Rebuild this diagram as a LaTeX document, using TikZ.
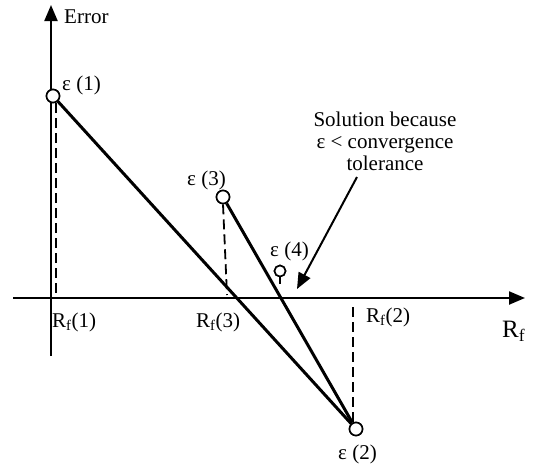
\documentclass[tikz,border=0pt]{standalone}
\usepackage{fontspec}
\setmainfont{Liberation Serif}
\usetikzlibrary{arrows.meta}
\begin{document}
\begin{tikzpicture}[x=1pt,y=-1pt,
  font=\fontsize{21}{24}\selectfont,
  axis/.style={line width=2.2pt,-{Triangle[length=16pt,width=13pt]}},
  mainline/.style={line width=3pt},
  dashline/.style={line width=1.8pt,dash pattern=on 10pt off 5pt},
  pt/.style={circle,draw,fill=white,line width=1.6pt,minimum size=13pt,inner sep=0pt},
  lbl/.style={inner sep=0pt}]
\useasboundingbox (0,0) rectangle (533,464);
% axes
\coordinate (xs) at (13,298);
\coordinate (xe) at (525,298);
\coordinate (ys) at (51,356);
\coordinate (ye) at (51,5);
\draw[axis] (xs) -- (xe);
\draw[axis] (ys) -- (ye);
% points
\node[pt] (e1) at (53,96) {};
\node[pt] (e3) at (223,197) {};
\node[pt] (e2) at (356,429) {};
\node[pt,minimum size=11pt] (e4) at (280,271) {};
% main lines
\draw[mainline] (e1) -- (e2);
\draw[mainline] (e3) -- (e2);
% dashed drops
\coordinate (f1) at (56,295);
\coordinate (f3) at (227,295);
\coordinate (f2) at (353,302);
\coordinate (f4) at (280,284);
\draw[dashline] ([xshift=3pt]e1.south) -- (f1);
\draw[dashline] (e3.south) -- (f3);
\draw[dashline] ([xshift=-3pt]e2.north) -- (f2);
\draw[line width=1.8pt] (e4.south) -- (f4);
% redraw circles on top
\node[pt] at (e1) {};
\node[pt] at (e3) {};
\node[pt] at (e2) {};
\node[pt,minimum size=11pt] at (e4) {};
% labels
\node[lbl,anchor=west] (err) at (64,17) {Error};
\node[lbl,anchor=west] (l1) at (62,85) {ε (1)};
\node[lbl,anchor=west] (l3) at (187,180) {ε (3)};
\node[lbl,anchor=west] (l4) at (270,251) {ε (4)};
\node[lbl,anchor=west] (l2) at (338,454) {ε (2)};
\node[lbl,anchor=west] (r1) at (52,322) {R\textsubscript{f}(1)};
\node[lbl,anchor=west] (r3) at (196,322) {R\textsubscript{f}(3)};
\node[lbl,anchor=west] (r2) at (366,317) {R\textsubscript{f}(2)};
\node[lbl,anchor=west,font=\fontsize{25}{28}\selectfont] (rf) at (502,331) {R\textsubscript{f}};
% annotation
\node[lbl,align=center,font=\fontsize{21}{22}\selectfont] (sol) at (385,141) {Solution because\\ε < convergence\\tolerance};
\fill[white] (320,171) rectangle (450,180);
\coordinate (as) at (357,177);
\coordinate (at) at (297,289);
\draw[line width=2pt,-{Triangle[length=16pt,width=13pt]}] (as) -- (at);
\end{tikzpicture}
\end{document}
